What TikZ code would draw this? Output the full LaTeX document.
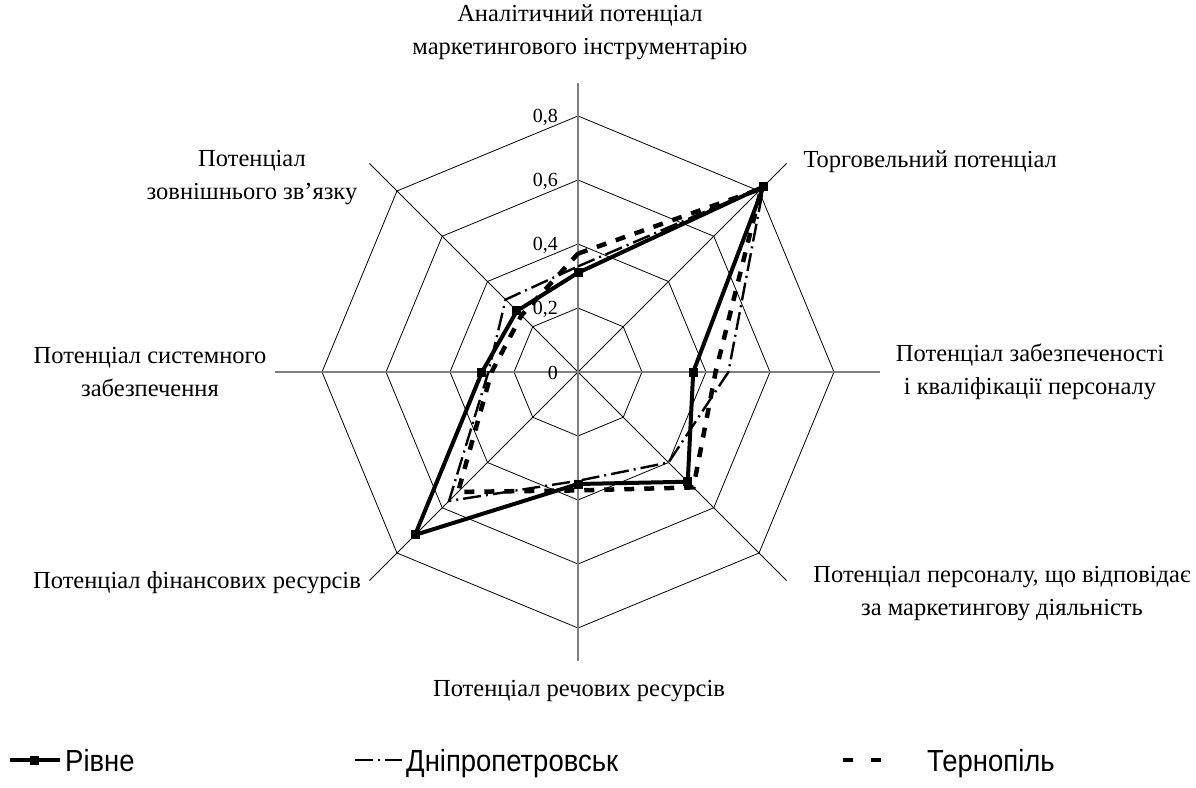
\documentclass[tikz,border=0pt]{standalone}
\usepackage{fontspec}
\setmainfont{Liberation Serif}
\setsansfont{Liberation Sans}
\usetikzlibrary{calc}

% one unit of the radar = 320pt
\newcommand{\rad}{320}
\newcommand{\legtext}[1]{\scalebox{0.9}[1]{#1}}

\tikzset{
  ring/.style={black, line width=0.8pt},
  spoke/.style={black, line width=0.8pt},
  axisline/.style={black!50, line width=1.4pt},
  rivne/.style={black, line width=4pt, line join=miter},
  dnipro/.style={black, line width=2.4pt, dash pattern=on 18pt off 5pt on 2pt off 5pt},
  ternopil/.style={black, line width=4.5pt, dash pattern=on 10pt off 10pt},
  marker/.style={fill=black, rectangle, minimum size=9pt, inner sep=0pt},
  axislabel/.style={font=\fontsize{24.5}{33}\selectfont, align=center},
  ticklabel/.style={font=\fontsize{20}{24}\selectfont, anchor=east, inner sep=0pt},
  legendtext/.style={font=\sffamily\fontsize{30.5}{32}\selectfont, anchor=base west, inner sep=0pt}
}

\begin{document}
\begin{tikzpicture}[x=1pt, y=1pt]
    \useasboundingbox[fill=white] (-578,-415) rectangle (618,372);

    % Rings of the radar
    \foreach \v in {0.2,0.4,0.6,0.8}
        \draw[ring] (90:{\v*\rad}) \foreach \a in {45,0,-45,-90,-135,-180,-225} { -- (\a:{\v*\rad}) } -- cycle;

    % Spokes
    \foreach \a in {45,135,225,315}
        \draw[spoke] (0,0) -- (\a:295);
    \draw[axisline] (0,289) -- (0,-289);
    \draw[axisline] (-303,0) -- (302,0);

    % Scale labels
    \node[ticklabel] (t0) at (-20,-1) {0};
    \foreach \v/\s in {0.2/{0,2},0.4/{0,4},0.6/{0,6},0.8/{0,8}}
        \node[ticklabel] (t\v) at (-20,{\v*\rad-1}) {\s};

    % Series: Dnipropetrovsk
    \draw[dnipro] (90:{0.33*\rad}) -- (45:{0.82*\rad}) -- (0:{0.47*\rad}) -- (-45:{0.40*\rad})
        -- (-90:{0.34*\rad}) -- (-135:{0.57*\rad}) -- (180:{0.28*\rad}) -- (135:{0.32*\rad}) -- cycle;

    % Series: Ternopil
    \draw[ternopil] (90:{0.37*\rad}) -- (45:{0.81*\rad}) -- (0:{0.43*\rad}) -- (-45:{0.51*\rad})
        -- (-90:{0.37*\rad}) -- (-135:{0.53*\rad}) -- (180:{0.27*\rad}) -- (135:{0.25*\rad}) -- cycle;

    % Series: Rivne
    \draw[rivne] (90:{0.31*\rad}) -- (45:{0.82*\rad}) -- (0:{0.36*\rad}) -- (-45:{0.485*\rad})
        -- (-90:{0.35*\rad}) -- (-135:{0.72*\rad}) -- (180:{0.30*\rad}) -- (135:{0.27*\rad}) -- cycle;
    \foreach \a/\v [count=\i] in {90/0.31,45/0.82,0/0.36,-45/0.485,-90/0.35,-135/0.72,180/0.30,135/0.27}
        \node[marker] (r\i) at (\a:{\v*\rad}) {};

    % Axis labels
    \node[axislabel] (analit) at (2,340) {Аналітичний потенціал\\маркетингового інструментарію};
    \node[axislabel, anchor=west] (torg) at (222,210) {Торговельний потенціал};
    \node[axislabel] (zabezp) at (452,0) {Потенціал забезпеченості\\і кваліфікації персоналу};
    \node[axislabel] (person) at (424,-222) {Потенціал персоналу, що відповідає\\за маркетингову діяльність};
    \node[axislabel] (rech) at (1,-319) {Потенціал речових ресурсів};
    \node[axislabel] (fin) at (-381,-211) {Потенціал фінансових ресурсів};
    \node[axislabel] (system) at (-428,0) {Потенціал системного\\забезпечення};
    \node[axislabel] (zovn) at (-326,194) {Потенціал\\зовнішнього зв’язку};

    % Legend
    \coordinate (l1a) at (-568,-388);
    \coordinate (l1b) at (-518,-388);
    \draw[rivne] (l1a) -- (l1b);
    \node[marker] (l1m) at ($(l1a)!0.5!(l1b)$) {};
    \node[legendtext] (l1t) at (-513,-399) {\legtext{Рівне}};

    \coordinate (l2a) at (-226,-388);
    \coordinate (l2b) at (-176,-388);
    \draw[dnipro, dash phase=-3pt] (l2a) -- (l2b);
    \node[legendtext] (l2t) at (-172,-399) {\legtext{Дніпропетровськ}};

    \coordinate (l3a) at (265,-388);
    \coordinate (l3b) at (315,-388);
    \draw[ternopil, dash pattern=on 10pt off 18pt] (l3a) -- (l3b);
    \node[legendtext] (l3t) at (349,-399) {\legtext{Тернопіль}};
\end{tikzpicture}
\end{document}
